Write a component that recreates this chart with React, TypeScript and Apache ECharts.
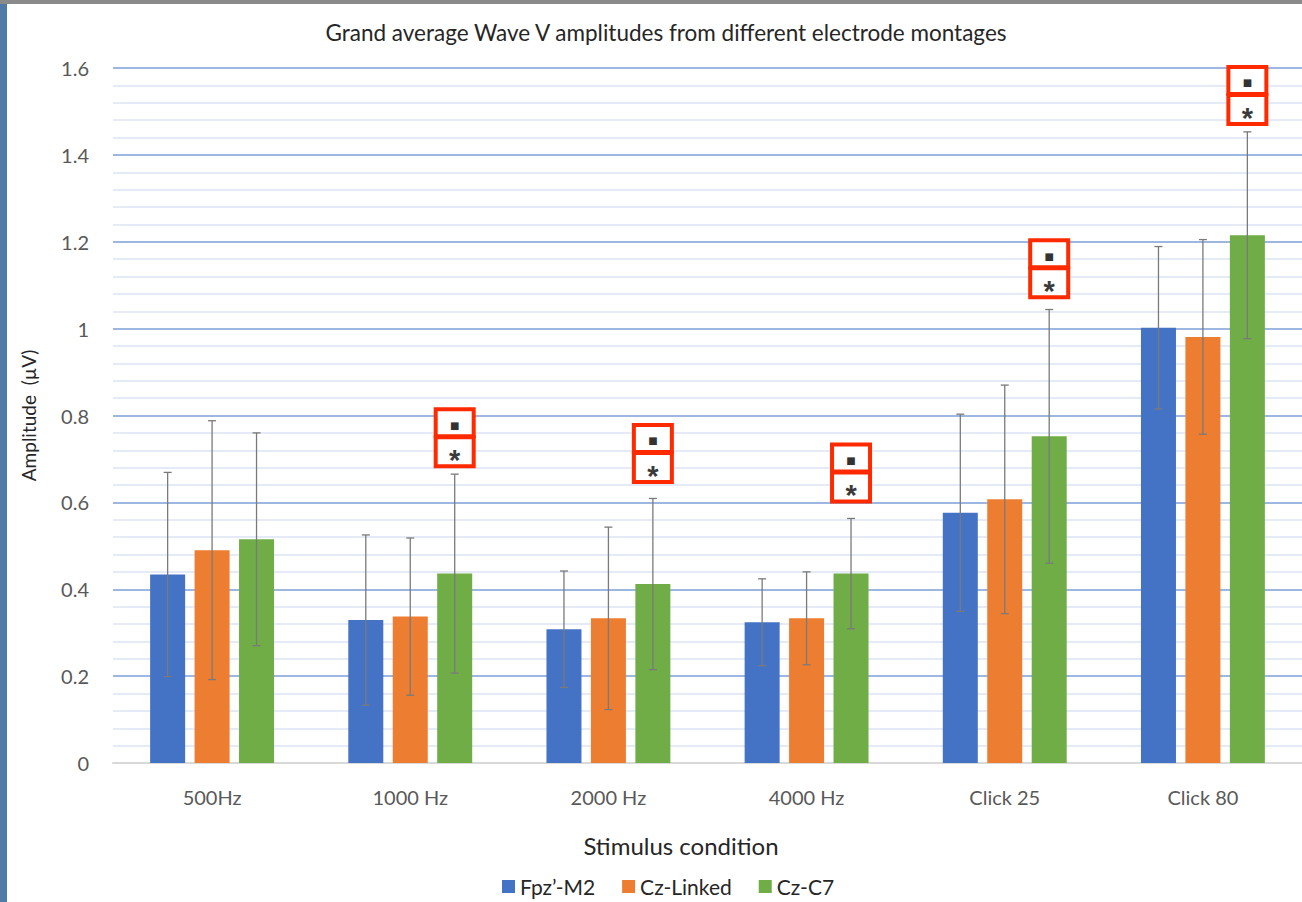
import React, { useEffect, useRef } from "react";
import * as echarts from "echarts";

// ---------- data ----------
const categories = ["500Hz", "1000 Hz", "2000 Hz", "4000 Hz", "Click 25", "Click 80"];
const seriesNames = ["Fpz’-M2", "Cz-Linked", "Cz-C7"];

const fpzM2Mean = [0.434, 0.329, 0.308, 0.324, 0.576, 1.002];
const fpzM2SD = [0.235, 0.196, 0.134, 0.1, 0.227, 0.187];

const czLinkedMean = [0.49, 0.337, 0.333, 0.333, 0.607, 0.981];
const czLinkedSD = [0.298, 0.181, 0.21, 0.107, 0.263, 0.224];

const czC7Mean = [0.515, 0.436, 0.412, 0.436, 0.752, 1.215];
const czC7SD = [0.245, 0.229, 0.197, 0.127, 0.292, 0.238];

// significance annotations (placed above the Cz-C7 bar)
const sigCategories = ["1000 Hz", "2000 Hz", "4000 Hz", "Click 25", "Click 80"];
const sigTopValues = [0.819, 0.783, 0.738, 1.208, 1.607];
const sigMarks = ["■", "*"];

const yMin = 0;
const yMax = 1.6;
const yInterval = 0.2;

const titleText = "Grand average Wave V amplitudes from different electrode montages";
const yAxisName = "Amplitude  (µV)";
const xAxisName = "Stimulus condition";

// ---------- style ----------
const COLORS = ["#4472C4", "#ED7D31", "#70AD47"];
const FONT = "Lato, 'Open Sans', sans-serif";
const BAR_W = 35;
const BAR_GAP_PCT = 27;
const BAR_STEP = BAR_W * (1 + BAR_GAP_PCT / 100);

const means = [fpzM2Mean, czLinkedMean, czC7Mean];
const sds = [fpzM2SD, czLinkedSD, czC7SD];

function makeErrorSeries(idx: number) {
  const m = means[idx];
  const s = sds[idx];
  return {
    type: "custom",
    name: seriesNames[idx] + " SD",
    data: m.map((v, i) => [i, v - s[i], v + s[i]]),
    encode: { x: 0, y: [1, 2] },
    z: 10,
    silent: true,
    renderItem: (params: any, api: any) => {
      const c = api.value(0);
      const lo = api.coord([c, api.value(1)]);
      const hi = api.coord([c, api.value(2)]);
      const x = lo[0] + (idx - 1) * BAR_STEP;
      const cap = 4;
      const style = { stroke: "#7a7a7a", lineWidth: 1.3 };
      return {
        type: "group",
        children: [
          { type: "line", shape: { x1: x, y1: hi[1], x2: x, y2: lo[1] }, style },
          { type: "line", shape: { x1: x - cap, y1: hi[1], x2: x + cap, y2: hi[1] }, style },
          { type: "line", shape: { x1: x - cap, y1: lo[1], x2: x + cap, y2: lo[1] }, style },
        ],
      };
    },
  };
}

const sigSeries = {
  type: "custom",
  name: "significance",
  data: sigCategories.map((c, k) => [categories.indexOf(c), sigTopValues[k]]),
  encode: { x: 0, y: 1 },
  z: 20,
  silent: true,
  clip: false,
  renderItem: (params: any, api: any) => {
    const p = api.coord([api.value(0), api.value(1)]);
    const cx = p[0] + BAR_STEP;
    const top = p[1];
    const red = "#FF2A00";
    const w = 38;
    return {
      type: "group",
      children: [
        {
          type: "rect",
          shape: { x: cx - w / 2, y: top + 2, width: w, height: 27 },
          style: { fill: "#ffffff", stroke: red, lineWidth: 4 },
        },
        {
          type: "rect",
          shape: { x: cx - w / 2, y: top + 30, width: w, height: 29 },
          style: { fill: "#ffffff", stroke: red, lineWidth: 4 },
        },
        {
          type: "text",
          style: {
            text: sigMarks[0],
            x: cx,
            y: top + 18,
            align: "center",
            verticalAlign: "middle",
            fontSize: 10,
            fontFamily: "DejaVu Sans",
            fill: "#333333",
          },
        },
        {
          type: "text",
          style: {
            text: sigMarks[1],
            x: cx,
            y: top + 53,
            align: "center",
            verticalAlign: "middle",
            fontSize: 29,
            fontWeight: "bold",
            fontFamily: "Liberation Sans",
            fill: "#3a3a3a",
          },
        },
      ],
    };
  },
};

export default function App() {
  const ref = useRef<HTMLDivElement>(null);

  useEffect(() => {
    if (!ref.current) return;
    const chart = echarts.init(ref.current, undefined, { renderer: "svg" });
    const option: any = {
      animation: false,
      backgroundColor: "#ffffff",
      title: {
        text: titleText,
        left: 661,
        textAlign: "center",
        top: 16,
        textStyle: { fontFamily: FONT, fontSize: 22.5, fontWeight: "normal", color: "#262626" },
      },
      grid: { left: 113, right: 0, top: 68, bottom: 139, containLabel: false },
      legend: {
        data: seriesNames,
        left: 497,
        top: 871,
        icon: "rect",
        itemWidth: 13,
        itemHeight: 13,
        itemGap: 27,
        textStyle: { fontFamily: FONT, fontSize: 21, color: "#262626" },
      },
      xAxis: {
        type: "category",
        data: categories,
        axisLine: { lineStyle: { color: "#d9d9d9", width: 2 } },
        axisTick: { show: false },
        axisLabel: { fontFamily: FONT, fontSize: 20, color: "#595959", margin: 24 },
        splitLine: { show: false },
      },
      yAxis: {
        type: "value",
        min: yMin,
        max: yMax,
        interval: yInterval,
        name: yAxisName,
        nameLocation: "middle",
        nameGap: 75,
        nameTextStyle: { fontFamily: FONT, fontSize: 19, color: "#262626" },
        axisLine: { show: false },
        axisTick: { show: false },
        axisLabel: { fontFamily: FONT, fontSize: 20, color: "#595959", margin: 24 },
        splitLine: { show: true, lineStyle: { color: "#7d9ed9", width: 1.5 } },
        minorTick: { show: false, splitNumber: 5 },
        minorSplitLine: { show: true, lineStyle: { color: "#dbe4f5", width: 1.5 } },
      },
      graphic: [
        { type: "rect", shape: { x: 0, y: 0, width: 7, height: 902 }, style: { fill: "#4e7ba8" } },
        { type: "rect", shape: { x: 0, y: 0, width: 1302, height: 4 }, style: { fill: "#8a8a8a" } },
        {
          type: "text",
          style: {
            text: xAxisName,
            x: 681,
            y: 845,
            align: "center",
            verticalAlign: "middle",
            fontFamily: FONT,
            fontSize: 24,
            fill: "#262626",
          },
        },
      ],
      series: [
        ...seriesNames.map((n, i) => ({
          type: "bar",
          name: n,
          data: means[i],
          barWidth: BAR_W,
          barGap: BAR_GAP_PCT + "%",
          itemStyle: { color: COLORS[i] },
          z: 2,
        })),
        makeErrorSeries(0),
        makeErrorSeries(1),
        makeErrorSeries(2),
        sigSeries,
      ],
    };
    chart.setOption(option);
    return () => chart.dispose();
  }, []);

  return (
    <div
      ref={ref}
      style={{ position: "absolute", left: 0, top: 0, width: 1302, height: 902 }}
    />
  );
}
